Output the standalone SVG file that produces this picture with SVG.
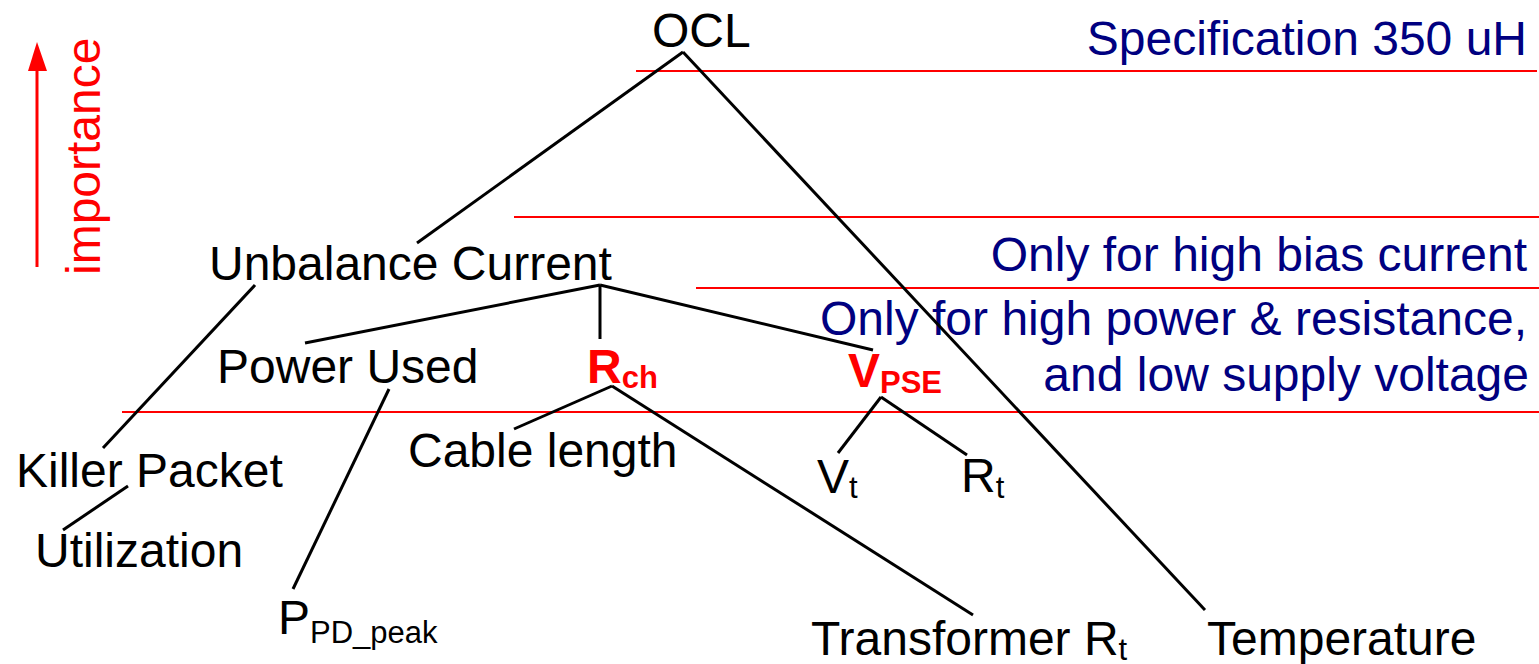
<svg xmlns="http://www.w3.org/2000/svg" width="1539" height="664" viewBox="0 0 1539 664">
<style>
text{font-family:"Liberation Sans",Arial,sans-serif;font-size:48px}
.n{fill:#000}
.note{fill:#000080;text-anchor:end}
.red{fill:#ff0000}
.b{font-weight:bold}
.sub{font-size:31px}
.conn line{stroke:#000;stroke-width:3;stroke-linecap:butt}
.band{stroke:#ff0000;stroke-width:2}
</style>
<rect width="1539" height="664" fill="#fff"/>
<g id="bands">
<line class="band" x1="636" y1="71" x2="1537" y2="71" stroke-width="1.2"/>
<line class="band" x1="514" y1="217" x2="1539" y2="217"/>
<line class="band" x1="696" y1="288" x2="1539" y2="288"/>
<line class="band" x1="122" y1="412" x2="1539" y2="412"/>
</g>
<g id="importance-axis">
<line x1="37" y1="267" x2="37" y2="68" stroke="#ff0000" stroke-width="3"/>
<polygon points="37,42 28,71 47,71" fill="#ff0000"/>
<text class="red" transform="translate(100,275) rotate(-90)">importance</text>
</g>
<g id="notes">
<text class="note" x="1527" y="55">Specification 350 uH</text>
<text class="note" x="1527" y="271">Only for high bias current</text>
<text class="note" x="1527" y="335">Only for high power &amp; resistance,</text>
<text class="note" x="1529" y="391">and low supply voltage</text>
</g>
<g class="conn" id="connectors">
<line x1="683" y1="52" x2="417" y2="243"/>
<line x1="683" y1="52" x2="1205" y2="610"/>
<line x1="255" y1="285" x2="103" y2="448"/>
<line x1="128" y1="486" x2="63" y2="530"/>
<line x1="600" y1="285" x2="305" y2="343"/>
<line x1="600" y1="285" x2="600" y2="339"/>
<line x1="600" y1="285" x2="873" y2="350"/>
<line x1="389" y1="389" x2="293" y2="589"/>
<line x1="612" y1="386" x2="514" y2="429"/>
<line x1="612" y1="386" x2="973" y2="615"/>
<line x1="881" y1="397" x2="838" y2="453"/>
<line x1="881" y1="397" x2="967" y2="455"/>
</g>
<g id="ocl"><text class="n" x="652" y="47">OCL</text></g>
<g id="unbalance"><text class="n" x="209" y="280">Unbalance Current</text></g>
<g id="power-used"><text class="n" x="217" y="383">Power Used</text></g>
<g id="rch"><text class="red b" x="587" y="383">R<tspan class="sub" dy="5">ch</tspan></text></g>
<g id="vpse"><text class="red b" x="848" y="387">V<tspan class="sub" dy="6">PSE</tspan></text></g>
<g id="killer"><text class="n" x="16" y="487">Killer Packet</text></g>
<g id="utilization"><text class="n" x="35" y="567">Utilization</text></g>
<g id="cable"><text class="n" x="408" y="467">Cable length</text></g>
<g id="vt"><text class="n" x="817" y="493">V<tspan class="sub" dy="5">t</tspan></text></g>
<g id="rt"><text class="n" x="961" y="492">R<tspan class="sub" dy="6">t</tspan></text></g>
<g id="ppd"><text class="n" x="278" y="634">P<tspan class="sub" dy="9">PD_peak</tspan></text></g>
<g id="transformer"><text class="n" x="811" y="655">Transformer R<tspan class="sub" dy="5">t</tspan></text></g>
<g id="temperature"><text class="n" x="1207" y="655">Temperature</text></g>
</svg>
